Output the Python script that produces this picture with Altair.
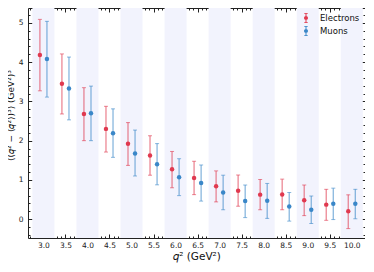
import altair as alt
import pandas as pd

# ---- data ----
q = [3.0, 3.5, 4.0, 4.5, 5.0, 5.5, 6.0, 6.5, 7.0, 7.5, 8.0, 8.5, 9.0, 9.5, 10.0]
e_val = [4.18, 3.45, 2.68, 2.30, 1.92, 1.62, 1.27, 1.05, 0.84, 0.725, 0.625, 0.63, 0.48, 0.37, 0.20]
e_hi = [5.09, 4.21, 3.35, 2.875, 2.46, 2.125, 1.725, 1.475, 1.23, 1.125, 1.01, 1.02, 0.87, 0.76, 0.62]
e_lo = [3.27, 2.68, 2.00, 1.71, 1.37, 1.12, 0.80, 0.625, 0.44, 0.33, 0.24, 0.24, 0.09, -0.03, -0.24]
m_val = [4.08, 3.33, 2.70, 2.19, 1.675, 1.40, 1.07, 0.92, 0.68, 0.46, 0.47, 0.32, 0.24, 0.39, 0.39]
m_hi = [5.04, 4.13, 3.39, 2.81, 2.27, 1.925, 1.54, 1.38, 1.12, 0.87, 0.91, 0.68, 0.59, 0.79, 0.76]
m_lo = [3.11, 2.53, 2.00, 1.575, 1.10, 0.875, 0.60, 0.46, 0.24, 0.04, 0.02, -0.05, -0.11, -0.01, 0.01]
band_centers = [3.0, 4.0, 5.0, 6.0, 7.0, 8.0, 9.0, 10.0]
series_names = ["Electrons", "Muons"]
x_major = [3.0, 3.5, 4.0, 4.5, 5.0, 5.5, 6.0, 6.5, 7.0, 7.5, 8.0, 8.5, 9.0, 9.5, 10.0]
x_minor = [round(2.7 + 0.1 * i, 1) for i in range(76)]
y_major = [0, 1, 2, 3, 4, 5]
y_minor = [round(-0.4 + 0.2 * i, 1) for i in range(29)]

# ---- styles ----
RED = "#e0394f"
BLUE = "#3a87c8"
BAND = "#f2f3fd"
FONT = "DejaVu Sans"
SHIFT = 0.08
HALF = 0.25

rows = []
for i, qq in enumerate(q):
    rows.append(dict(series="Electrons", x=qq - SHIFT, val=e_val[i], lo=e_lo[i], hi=e_hi[i]))
    rows.append(dict(series="Muons", x=qq + SHIFT, val=m_val[i], lo=m_lo[i], hi=m_hi[i]))
df = pd.DataFrame(rows)
bands = pd.DataFrame({"b0": [c - HALF for c in band_centers], "b1": [c + HALF for c in band_centers]})

xscale = alt.Scale(domain=[2.65, 10.3], nice=False, zero=False)
yscale = alt.Scale(domain=[-0.48, 5.38], nice=False, zero=False)
cscale = alt.Scale(domain=series_names, range=[RED, BLUE])

common = dict(grid=False, domain=False, tickColor="#222", labelFont=FONT,
              labelFontSize=7.5, labelColor="#222", titleFont=FONT,
              titleColor="#111", titleFontWeight="normal")


def ax(orient, values, major, labels=False, title=None, **kw):
    size = 4 if major else 2
    d = dict(common)
    d.update(kw)
    return alt.Axis(orient=orient, values=values, tickSize=size, offset=-size,
                    labels=labels, title=title, **d)


x_bottom_major = ax("bottom", x_major, True, labels=True, title="𝑞² (GeV²)",
                    format=".1f", labelPadding=3, titleFontSize=10.5, titlePadding=3)
y_left_major = ax("left", y_major, True, labels=True,
                  title="⟨(𝑞² − ⟨𝑞²⟩)³⟩ (GeV²)³", labelPadding=5,
                  titleFontSize=9, titlePadding=3, titleLimit=200, titleY=107)

color_enc = alt.Color("series:N", scale=cscale)

band_layer = alt.Chart(bands).mark_rect(color=BAND).encode(
    x=alt.X("b0:Q", scale=xscale, axis=x_bottom_major),
    x2="b1:Q",
)

rules = alt.Chart(df).mark_rule(strokeWidth=1.3, opacity=0.6).encode(
    x=alt.X("x:Q", scale=xscale, axis=ax("bottom", x_minor, False)),
    y=alt.Y("lo:Q", scale=yscale, axis=y_left_major),
    y2="hi:Q",
    color=color_enc,
)

caps_lo = alt.Chart(df).mark_tick(orient="horizontal", size=4, thickness=1, opacity=0.6).encode(
    x=alt.X("x:Q", scale=xscale, axis=ax("top", x_major, True)),
    y=alt.Y("lo:Q", scale=yscale, axis=ax("left", y_minor, False)),
    color=color_enc,
)

caps_hi = alt.Chart(df).mark_tick(orient="horizontal", size=4, thickness=1, opacity=0.6).encode(
    x=alt.X("x:Q", scale=xscale, axis=ax("top", x_minor, False)),
    y=alt.Y("hi:Q", scale=yscale, axis=ax("right", y_major, True)),
    color=color_enc,
)

points = alt.Chart(df).mark_point(filled=True, size=20, opacity=1).encode(
    x=alt.X("x:Q", scale=xscale, axis=None),
    y=alt.Y("val:Q", scale=yscale, axis=ax("right", y_minor, False)),
    color=color_enc,
)

sym = ("M-0.1,-0.9H0.1V0.9H-0.1Z"
       "M-0.35,-1H0.35V-0.84H-0.35Z"
       "M-0.35,0.84H0.35V1H-0.35Z"
       "M-0.4,0A0.4,0.4,0,1,1,0.4,0A0.4,0.4,0,1,1,-0.4,0Z")

chart = alt.layer(band_layer, rules, caps_lo, caps_hi, points).resolve_axis(
    x="independent", y="independent"
).properties(
    width=337, height=230,
    autosize=alt.AutoSizeParams(type="none"),
    padding={"left": 20, "top": 0, "right": 0, "bottom": 30},
).configure_view(stroke="#222", strokeWidth=1).configure_legend(
    title=None, orient="top-right", offset=5,
    symbolType=sym, symbolSize=100, symbolStrokeWidth=0, symbolOpacity=1,
    labelFont=FONT, labelFontSize=8.5, labelColor="#111", labelOffset=9,
    rowPadding=3, padding=0,
)

chart.save("out.html", embed_options={"renderer": "svg", "actions": False})
